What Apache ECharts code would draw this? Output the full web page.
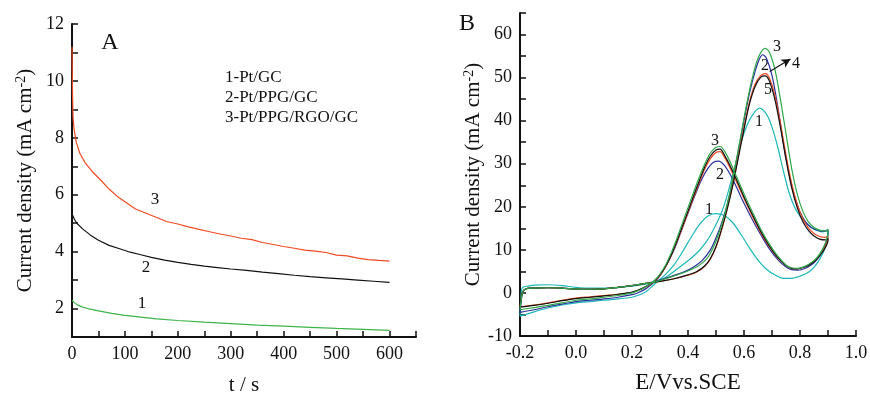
<!DOCTYPE html>
<html>
<head>
<meta charset="utf-8">
<script src="https://cdn.jsdelivr.net/npm/echarts@6/dist/echarts.min.js"></script>
<style>
  html, body { margin: 0; padding: 0; background: #fff; }
  #chart { width: 870px; height: 393px; }
</style>
</head>
<body>
<div id="chart"></div>
<script>
// ---- Panel A: chronoamperometry, current density vs time ----
const timeLabels = [0, 100, 200, 300, 400, 500, 600];
const densityLabelsA = [2, 4, 6, 8, 10, 12];

const caPtGC = [[0,2.29],[5,2.2],[10,2.13],[20,2.05],[30,2.0],[50,1.92],[75,1.83],[100,1.76],[130,1.7],[160,1.64],[200,1.58],[250,1.52],[300,1.47],[350,1.42],[400,1.38],[450,1.34],[500,1.3],[550,1.27],[600,1.23]];
const caPtPPG = [[0,5.32],[5,5.12],[10,4.98],[20,4.8],[35,4.58],[50,4.4],[70,4.22],[90,4.1],[110,3.98],[130,3.89],[150,3.8],[175,3.7],[200,3.62],[225,3.55],[250,3.49],[275,3.44],[300,3.39],[330,3.34],[360,3.28],[390,3.23],[420,3.17],[450,3.12],[480,3.08],[510,3.04],[540,3.0],[570,2.96],[600,2.92]];
const caPtPPGRGO = [[0,11.2],[0.5,10.3],[1,9.5],[2,8.7],[4,8.3],[8,7.85],[15,7.45],[25,7.12],[40,6.78],[55,6.5],[70,6.2],[85,5.95],[100,5.75],[120,5.5],[140,5.35],[160,5.2],[180,5.05],[200,4.97],[220,4.87],[240,4.78],[260,4.7],[280,4.62],[300,4.55],[320,4.47],[340,4.42],[360,4.32],[380,4.25],[400,4.18],[420,4.12],[440,4.05],[460,4.02],[480,3.97],[500,3.88],[520,3.85],[540,3.77],[560,3.72],[580,3.69],[600,3.67]];

// ---- Panel B: cyclic voltammograms, five cycles ----
const potentialLabels = [-0.2, 0.0, 0.2, 0.4, 0.6, 0.8, 1.0];
const densityLabelsB = [-10, 0, 10, 20, 30, 40, 50, 60];

const cv1 = [[-0.2,-5.4],[-0.197,-2],[-0.195,0.5],[-0.19,1.3],[-0.17,1.6],[-0.15,1.8],[-0.1,1.9],[-0.05,1.7],[0.0,1.3],[0.05,1.1],[0.1,1.1],[0.15,1.3],[0.2,1.6],[0.25,2.1],[0.29,2.7],[0.32,3.6],[0.35,5.0],[0.38,6.5],[0.41,8.0],[0.44,9.8],[0.47,12.3],[0.49,14.6],[0.51,17.2],[0.53,20.5],[0.55,25],[0.57,30],[0.59,35],[0.61,38.8],[0.63,41.3],[0.655,42.9],[0.68,41.5],[0.7,38.5],[0.72,34],[0.74,28.5],[0.76,23.5],[0.78,20],[0.8,17.8],[0.82,16.3],[0.84,15.2],[0.86,14.5],[0.88,14.2],[0.9,14.5],
  [0.9,13.5],[0.89,10.5],[0.87,7.8],[0.85,6.0],[0.83,4.8],[0.8,3.9],[0.77,3.4],[0.74,3.4],[0.71,4.2],[0.68,5.5],[0.65,7.6],[0.62,10.4],[0.59,13.5],[0.56,16.3],[0.53,18],[0.5,18.4],[0.47,17.8],[0.44,15.8],[0.41,12.8],[0.38,9.5],[0.35,6.5],[0.32,4.3],[0.29,2.6],[0.27,1.4],[0.25,0.3],[0.22,-0.6],[0.2,-1.0],[0.15,-1.4],[0.1,-1.7],[0.05,-2.0],[0.0,-2.3],[-0.05,-2.8],[-0.1,-3.5],[-0.15,-4.4],[-0.2,-5.4]];
const cv2 = [[-0.2,-4.5],[-0.195,-1.5],[-0.19,0.2],[-0.18,0.9],[-0.16,1.1],[-0.1,1.2],[-0.05,1.1],[0.0,0.9],[0.05,0.85],[0.1,0.95],[0.15,1.3],[0.2,1.7],[0.25,2.2],[0.29,2.8],[0.33,3.6],[0.36,4.3],[0.39,5.0],[0.42,6.0],[0.45,7.5],[0.48,10],[0.5,12.8],[0.52,16.2],[0.54,20.5],[0.56,26],[0.58,33],[0.6,40],[0.62,46.5],[0.64,51.5],[0.655,54.3],[0.667,55.3],[0.68,54.5],[0.7,50.5],[0.72,43.5],[0.74,35],[0.76,28],[0.78,22.5],[0.8,18.8],[0.82,16.5],[0.84,15.2],[0.86,14.6],[0.88,14.3],[0.9,14.6],
  [0.9,14.0],[0.89,11.2],[0.87,8.6],[0.85,7.0],[0.83,6.1],[0.81,5.5],[0.79,5.3],[0.77,5.4],[0.75,6.0],[0.72,7.8],[0.69,10.3],[0.66,13.5],[0.63,17],[0.6,20.8],[0.57,25],[0.55,27.6],[0.53,29.6],[0.51,30.6],[0.49,30.3],[0.47,28.8],[0.45,26.5],[0.43,23.5],[0.41,20.2],[0.39,16.8],[0.37,13.3],[0.35,10],[0.33,7.3],[0.31,5.0],[0.29,3.2],[0.27,2.0],[0.25,1.0],[0.22,0.0],[0.2,-0.4],[0.15,-1.0],[0.1,-1.4],[0.05,-1.7],[0.0,-2.0],[-0.05,-2.6],[-0.1,-3.2],[-0.15,-3.9],[-0.2,-4.5]];
const cv3 = [[-0.2,-3.9],[-0.195,-1.2],[-0.19,0.2],[-0.18,0.9],[-0.16,1.1],[-0.1,1.2],[-0.05,1.1],[0.0,0.9],[0.05,0.85],[0.1,0.95],[0.15,1.3],[0.2,1.7],[0.25,2.2],[0.29,2.7],[0.33,3.5],[0.37,4.4],[0.41,5.4],[0.44,6.4],[0.47,8.2],[0.49,10.5],[0.51,13.8],[0.53,18],[0.55,23.5],[0.57,30],[0.59,37],[0.61,44],[0.63,50],[0.65,54.5],[0.675,56.8],[0.69,56],[0.71,52],[0.73,45],[0.75,37],[0.77,29],[0.79,23],[0.81,19],[0.83,16.5],[0.85,15.2],[0.87,14.6],[0.89,14.4],[0.9,14.8],
  [0.9,14.2],[0.89,11.5],[0.87,9.0],[0.85,7.5],[0.83,6.6],[0.81,6.0],[0.79,5.7],[0.77,5.8],[0.75,6.5],[0.72,8.6],[0.69,11.4],[0.66,14.8],[0.63,18.8],[0.6,23],[0.57,27.5],[0.55,30.5],[0.53,33],[0.515,34],[0.5,33.8],[0.48,32.5],[0.46,30],[0.44,26.8],[0.42,23.4],[0.4,19.8],[0.38,16.2],[0.36,12.6],[0.34,9.3],[0.32,6.5],[0.3,4.4],[0.28,2.9],[0.26,1.9],[0.24,1.1],[0.22,0.5],[0.2,0.0],[0.15,-0.6],[0.1,-1.0],[0.05,-1.4],[0.0,-1.7],[-0.05,-2.3],[-0.1,-2.9],[-0.15,-3.4],[-0.2,-3.9]];
const cv4 = [[-0.2,-3.3],[-0.195,-1.0],[-0.19,0.3],[-0.18,0.9],[-0.16,1.1],[-0.1,1.2],[-0.05,1.1],[0.0,0.9],[0.05,0.85],[0.1,0.95],[0.15,1.3],[0.2,1.7],[0.25,2.2],[0.3,2.7],[0.35,3.3],[0.4,4.2],[0.43,4.9],[0.46,6.3],[0.48,8.0],[0.5,10.8],[0.52,14.8],[0.54,19.5],[0.56,25],[0.58,31.5],[0.6,38],[0.62,44],[0.64,48],[0.66,50.1],[0.675,50.4],[0.69,49.3],[0.71,45],[0.73,38.5],[0.75,31],[0.77,24.5],[0.79,19.8],[0.81,16.6],[0.83,14.5],[0.85,13.2],[0.87,12.5],[0.89,12.3],[0.9,12.6],
  [0.9,12.2],[0.89,10.5],[0.87,8.6],[0.85,7.3],[0.83,6.4],[0.81,5.9],[0.79,5.6],[0.77,5.7],[0.75,6.4],[0.72,8.3],[0.69,11.0],[0.66,14.3],[0.63,18.2],[0.6,22.3],[0.57,26.8],[0.55,29.6],[0.53,32],[0.515,33.4],[0.5,33.2],[0.48,31.8],[0.46,29.3],[0.44,26],[0.42,22.6],[0.4,19],[0.38,15.5],[0.36,12],[0.34,8.8],[0.32,6.2],[0.3,4.2],[0.28,2.8],[0.26,1.9],[0.24,1.2],[0.22,0.6],[0.2,0.2],[0.15,-0.3],[0.1,-0.7],[0.05,-1.0],[0.0,-1.3],[-0.05,-1.8],[-0.1,-2.4],[-0.15,-2.9],[-0.2,-3.3]];
const cv5 = [[-0.2,-3.2],[-0.195,-1.0],[-0.19,0.3],[-0.18,0.9],[-0.16,1.1],[-0.1,1.2],[-0.05,1.1],[0.0,0.9],[0.05,0.85],[0.1,0.95],[0.15,1.3],[0.2,1.7],[0.25,2.2],[0.3,2.7],[0.35,3.3],[0.4,4.1],[0.43,4.8],[0.46,6.2],[0.48,7.9],[0.5,10.6],[0.52,14.6],[0.54,19.5],[0.56,25.2],[0.58,32],[0.6,38.5],[0.62,44.5],[0.64,48.5],[0.66,50.5],[0.677,50.9],[0.69,50],[0.71,46],[0.73,39.5],[0.75,32],[0.77,25.5],[0.79,20.6],[0.81,17.3],[0.83,15.1],[0.85,13.8],[0.87,13.1],[0.89,12.9],[0.9,13.2],
  [0.9,12.8],[0.89,10.8],[0.87,8.8],[0.85,7.4],[0.83,6.5],[0.81,5.9],[0.79,5.6],[0.77,5.7],[0.75,6.4],[0.72,8.2],[0.69,10.8],[0.66,14.0],[0.63,17.8],[0.6,21.9],[0.57,26.3],[0.55,29.1],[0.53,31.5],[0.515,32.8],[0.5,32.6],[0.48,31.2],[0.46,28.8],[0.44,25.6],[0.42,22.2],[0.4,18.7],[0.38,15.2],[0.36,11.8],[0.34,8.7],[0.32,6.1],[0.3,4.1],[0.28,2.7],[0.26,1.8],[0.24,1.1],[0.22,0.5],[0.2,0.1],[0.15,-0.3],[0.1,-0.6],[0.05,-0.9],[0.0,-1.2],[-0.05,-1.7],[-0.1,-2.3],[-0.15,-2.8],[-0.2,-3.2]];

const legendLinesA = ['1-Pt/GC', '2-Pt/PPG/GC', '3-Pt/PPG/RGO/GC'];

const SERIF = '"Liberation Serif", "Times New Roman", serif';
const INK = '#111111';
const RED = '#ee4b23';
const GREEN_A = '#3cb44a';
const CYAN = '#1cb8b8';
const BLUE = '#2b2f9a';
const GREEN_B = '#2ea84a';
const BLACK = '#111111';

const chart = echarts.init(document.getElementById('chart'), null, { renderer: 'canvas' });

// Ticks at every step; only values listed in `labels` get a text label
function axis(gridIndex, min, max, interval, labels, fmt, extra) {
  const near = v => labels.some(l => Math.abs(l - v) < 1e-6);
  return Object.assign({
    type: 'value', gridIndex, min, max, interval,
    axisLine: { show: true, onZero: false, lineStyle: { color: INK, width: 2 } },
    axisTick: { show: true, inside: true, length: 6, lineStyle: { color: INK, width: 1.5 } },
    axisLabel: { color: INK, fontFamily: SERIF, fontSize: 18, showMinLabel: true, showMaxLabel: true,
      formatter: v => near(v) ? fmt(v) : '' },
    splitLine: { show: false },
    nameLocation: 'middle',
    nameTextStyle: { color: INK, fontFamily: SERIF, fontSize: 21 }
  }, extra);
}

function line(data, color, xi, yi, extra) {
  return Object.assign({
    type: 'line', data: data, xAxisIndex: xi, yAxisIndex: yi,
    showSymbol: false, symbol: 'none', smooth: 0.3, silent: true,
    lineStyle: { color: color, width: 1.2 }, z: 3
  }, extra || {});
}

const supRich = { sup: { fontFamily: SERIF, fontSize: 14, color: INK, verticalAlign: 'bottom', padding: [0, 0, 9, 0] } };
const intFmt = v => String(Math.round(v));

const option = {
  animation: false,
  backgroundColor: '#fff',
  grid: [
    { left: 72, top: 24, width: 344, height: 313, containLabel: false, outerBoundsMode: 'none' },
    { left: 520, top: 13, width: 336, height: 323, containLabel: false, outerBoundsMode: 'none' }
  ],
  xAxis: [
    axis(0, 0, 650, 50, timeLabels, intFmt, { name: 't / s', nameGap: 38 }),
    axis(1, -0.2, 1.0, 0.1, potentialLabels, v => Number(v).toFixed(1), {
      name: 'E/Vvs.SCE', nameGap: 35,
      nameTextStyle: { color: INK, fontFamily: SERIF, fontSize: 23 } })
  ],
  yAxis: [
    axis(0, 1, 12, 1, densityLabelsA, intFmt, {
      name: 'Current density (mA cm{sup|-2})', nameGap: 35,
      nameTextStyle: { color: INK, fontFamily: SERIF, fontSize: 21, rich: supRich } }),
    axis(1, -10, 65, 5, densityLabelsB, intFmt, {
      name: 'Current density (mA cm{sup|-2})', nameGap: 35,
      nameTextStyle: { color: INK, fontFamily: SERIF, fontSize: 21, rich: supRich } })
  ],
  series: [
    line(caPtGC, GREEN_A, 0, 0, { smooth: false }),
    line(caPtPPG, BLACK, 0, 0, { smooth: false }),
    line(caPtPPGRGO, RED, 0, 0, { smooth: false }),
    line(cv1, CYAN, 1, 1),
    line(cv2, BLUE, 1, 1),
    line(cv5, RED, 1, 1),
    line(cv4, BLACK, 1, 1, {
      markLine: {
        silent: true, symbol: ['none', 'arrow'], symbolSize: [7, 9],
        lineStyle: { color: BLACK, width: 1.2, type: 'solid' },
        label: { show: false },
        data: [[{ coord: [0.692, 51.4] }, { coord: [0.766, 54.3] }]]
      }
    }),
    line(cv3, GREEN_B, 1, 1)
  ],
  graphic: [
    { type: 'text', x: 110, y: 43, style: { text: 'A', font: '24px ' + SERIF, fill: INK, align: 'center', verticalAlign: 'middle' } },
    { type: 'text', x: 467, y: 24, style: { text: 'B', font: '24px ' + SERIF, fill: INK, align: 'center', verticalAlign: 'middle' } },
    { type: 'text', x: 225, y: 78, style: { text: legendLinesA[0], font: '17px ' + SERIF, fill: INK, align: 'left', verticalAlign: 'middle' } },
    { type: 'text', x: 225, y: 98, style: { text: legendLinesA[1], font: '17px ' + SERIF, fill: INK, align: 'left', verticalAlign: 'middle' } },
    { type: 'text', x: 225, y: 118, style: { text: legendLinesA[2], font: '17px ' + SERIF, fill: INK, align: 'left', verticalAlign: 'middle' } },
    { type: 'text', x: 155, y: 200, style: { text: '3', font: '17px ' + SERIF, fill: INK, align: 'center', verticalAlign: 'middle' } },
    { type: 'text', x: 146, y: 268, style: { text: '2', font: '17px ' + SERIF, fill: INK, align: 'center', verticalAlign: 'middle' } },
    { type: 'text', x: 142, y: 304, style: { text: '1', font: '17px ' + SERIF, fill: INK, align: 'center', verticalAlign: 'middle' } },
    { type: 'text', x: 777, y: 47, style: { text: '3', font: '16px ' + SERIF, fill: INK, align: 'center', verticalAlign: 'middle' } },
    { type: 'text', x: 765, y: 66, style: { text: '2', font: '16px ' + SERIF, fill: INK, align: 'center', verticalAlign: 'middle' } },
    { type: 'text', x: 796, y: 64, style: { text: '4', font: '16px ' + SERIF, fill: INK, align: 'center', verticalAlign: 'middle' } },
    { type: 'text', x: 768, y: 90, style: { text: '5', font: '16px ' + SERIF, fill: INK, align: 'center', verticalAlign: 'middle' } },
    { type: 'text', x: 759, y: 122, style: { text: '1', font: '16px ' + SERIF, fill: INK, align: 'center', verticalAlign: 'middle' } },
    { type: 'text', x: 715, y: 141, style: { text: '3', font: '16px ' + SERIF, fill: INK, align: 'center', verticalAlign: 'middle' } },
    { type: 'text', x: 720, y: 175, style: { text: '2', font: '16px ' + SERIF, fill: INK, align: 'center', verticalAlign: 'middle' } },
    { type: 'text', x: 709, y: 210, style: { text: '1', font: '16px ' + SERIF, fill: INK, align: 'center', verticalAlign: 'middle' } }
  ]
};

chart.setOption(option);
</script>
</body>
</html>
